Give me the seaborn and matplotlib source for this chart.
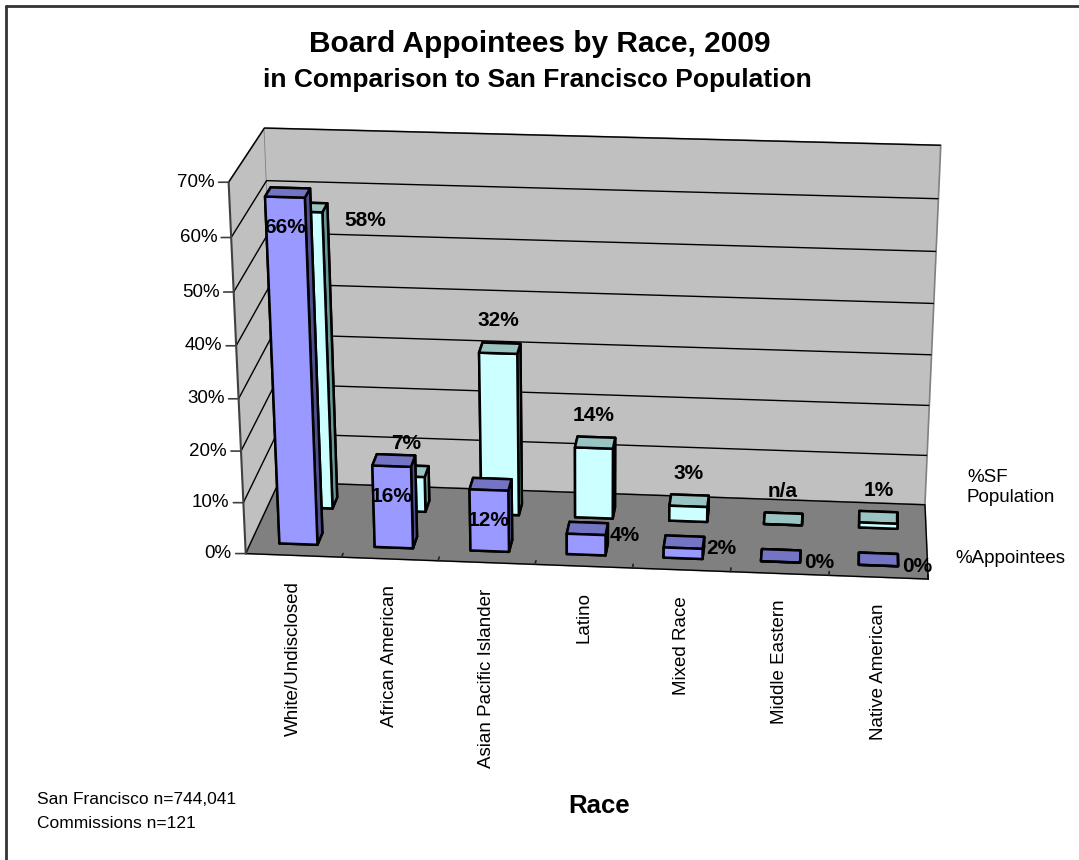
import numpy as np
import pandas as pd
import matplotlib
matplotlib.use("Agg")
import matplotlib.pyplot as plt
import seaborn as sns
from mpl_toolkits.mplot3d import Axes3D  # noqa: F401

# ---- data ----
categories = ["White/Undisclosed", "African American", "Asian Pacific Islander",
              "Latino", "Mixed Race", "Middle Eastern", "Native American"]
appointees = [66, 16, 12, 4, 2, 0, 0]            # % of board appointees
sf_population = [58, 7, 32, 14, 3, np.nan, 1]    # % of SF population (n/a for Middle Eastern)
series = ["%Appointees", "%SF\nPopulation"]
pct_ticks = [0, 10, 20, 30, 40, 50, 60, 70]
title = "Board Appointees by Race, 2009"
subtitle = "in Comparison to San Francisco Population"
axis_title = "Race"
notes = ["San Francisco n=744,041", "Commissions n=121"]

sns.set_theme(style="white")
plt.rcParams["font.family"] = ["Liberation Sans", "DejaVu Sans"]
plt.rcParams["text.color"] = "black"

df = pd.DataFrame({
    "race": categories * 2,
    "series": [series[0]] * len(categories) + [series[1]] * len(categories),
    "value": appointees + sf_population,
})
df["pos"] = df["race"].map({c: i for i, c in enumerate(categories)})
df["row"] = df["series"].map({s: i for i, s in enumerate(series)})

front = sns.color_palette(["#9999FF", "#CCFFFF"])
top = sns.color_palette(["#7474C4", "#9AC4C1"])
side = sns.color_palette(["#505090", "#6A9997"])

W, H = 1079, 860
fig = plt.figure(figsize=(W / 100, H / 100), dpi=100)
fig.patch.set_facecolor("white")

S = 783
cx, cy = 592, 350
ax = fig.add_axes([(cx - 0.514 * S) / W, (H - cy - 0.514 * S) / H, S / W, S / H],
                  projection="3d")
ax.patch.set_alpha(0)

bar_w, bar_d = 0.4, 0.32
face_cols = []
for r in df["row"]:
    face_cols += [top[r], top[r], front[r], side[r], side[r], side[r]]
ax.bar3d(df["pos"] - bar_w / 2, df["row"] + 0.3, np.zeros(len(df)),
         bar_w, bar_d, df["value"].fillna(0).to_numpy(),
         color=face_cols, shade=False, edgecolor="black", linewidth=1.8)

nx = len(categories)
ax.set_xlim(-0.5, nx - 0.5)
ax.set_ylim(0, len(series))
ax.set_zlim(pct_ticks[0], pct_ticks[-1])
ax.set_box_aspect((680, 180, 390))
ax.view_init(elev=21, azim=-85)
ax.set_proj_type("persp", focal_length=0.7)

# walls and floor
ax.xaxis.set_pane_color("#C0C0C0")
ax.yaxis.set_pane_color("#C0C0C0")
ax.zaxis.set_pane_color("#808080")
for a in (ax.xaxis, ax.yaxis, ax.zaxis):
    a.pane.set_edgecolor("#808080")
    a.pane.set_linewidth(1.2)
    a.line.set_color("black")
    a.line.set_linewidth(1.0)
ax.zaxis.line.set_color((0, 0, 0, 0))

ax.grid(True)
ax.zaxis._axinfo["grid"].update(color="black", linewidth=1.0, linestyle="-")
for a in (ax.xaxis, ax.yaxis):
    a._axinfo["grid"].update(color=(0, 0, 0, 0), linewidth=0)

ax.xaxis._axinfo["tick"].update(inward_factor=0.0, outward_factor=0.6)
ax.xaxis._axinfo["tick"]["color"] = "#404040"
ax.zaxis._axinfo["tick"].update(inward_factor=0.0, outward_factor=0.0)
ax.set_xticks(np.arange(-0.5, nx, 1.0))
ax.set_xticklabels([])
ax.set_yticks([])
ax.set_zticks(pct_ticks)
ax.set_zticklabels([])
ax.set_xlabel("")
ax.set_ylabel("")
ax.set_zlabel("")


def project(x, y, z):
    v = ax.get_proj() @ np.array([x, y, z, 1.0])
    return v[0] / v[3], v[1] / v[3]


def note(x, y, z, text, dx, dy, **kw):
    ax.annotate(text, xy=project(x, y, z), xycoords="data", xytext=(dx, dy),
                textcoords="offset pixels", zorder=20, annotation_clip=False,
                color="black", **kw)


def segment(p0, p1, **kw):
    ax.annotate("", xy=project(*p1), xytext=project(*p0), xycoords="data",
                textcoords="data", zorder=19, annotation_clip=False,
                arrowprops=dict(arrowstyle="-", shrinkA=0, shrinkB=0, **kw))


# value axis on the front-left edge
segment((-0.5, 0, pct_ticks[0]), (-0.5, 0, pct_ticks[-1]), color="#404040", lw=1.5)
for t in pct_ticks:
    ax.annotate("", xy=project(-0.5, 0, t), xycoords="data", xytext=(-10, 0),
                textcoords="offset pixels", zorder=19, annotation_clip=False,
                arrowprops=dict(arrowstyle="-", shrinkA=0, shrinkB=0, color="#404040", lw=1.2))
    note(-0.5, 0, t, f"{t}%", -14, 0, ha="right", va="center", fontsize=13.5)

# category labels under the floor
for i, c in enumerate(categories):
    note(i, 0, 0, c, 0, -26, rotation=90, ha="center", va="top", fontsize=13.5)

# series labels along the depth axis
note(nx - 0.5, 0.54, 0, series[0], 28, 0, ha="left", va="center", fontsize=13.5)
note(nx - 0.5, 2.0, 0, series[1], 42, 17, ha="left", va="center", fontsize=13.5)

# data labels
vals = df.set_index(["row", "pos"])["value"]
for _, r in df.iterrows():
    v = r["value"]
    text = "n/a" if np.isnan(v) else f"{v:.0f}%"
    h = 0 if np.isnan(v) else v
    ymid = r["row"] + 0.3
    lab = dict(fontsize=15, fontweight="bold")
    if r["row"] == 1:
        hidden = vals[(0, r["pos"])] > h > 30
        if hidden:
            # tall back bar just behind a taller front bar: label beside it
            note(r["pos"] + bar_w / 2, ymid, h, text, 22, -8, ha="left", va="center", **lab)
        else:
            note(r["pos"], ymid, h, text, 0, 33, ha="center", va="center", **lab)
    elif h >= 10:
        note(r["pos"], ymid, h, text, 0, -30, ha="center", va="center", **lab)
    else:
        note(r["pos"] + bar_w / 2, ymid, h, text, 4, 0, ha="left", va="center", **lab)

fig.text(540 / W, 1 - 44 / H, title, ha="center", va="center", fontsize=21.5,
         fontweight="bold", color="black")
fig.text(537 / W, 1 - 80 / H, subtitle, ha="center", va="center", fontsize=19,
         fontweight="bold", color="black")
fig.text(599 / W, 1 - 806 / H, axis_title, ha="center", va="center", fontsize=18.5,
         fontweight="bold", color="black")
fig.text(37 / W, 1 - 800 / H, notes[0], ha="left", va="center", fontsize=12.5, color="black")
fig.text(37 / W, 1 - 823 / H, notes[1], ha="left", va="center", fontsize=12.5, color="black")

# chart frame (top and left edges)
fig.add_artist(plt.Line2D([6 / W, 1], [1 - 6 / H, 1 - 6 / H], color="#333333", lw=2))
fig.add_artist(plt.Line2D([6 / W, 6 / W], [0, 1 - 6 / H], color="#333333", lw=2))

fig.savefig("out.png", dpi=100)
